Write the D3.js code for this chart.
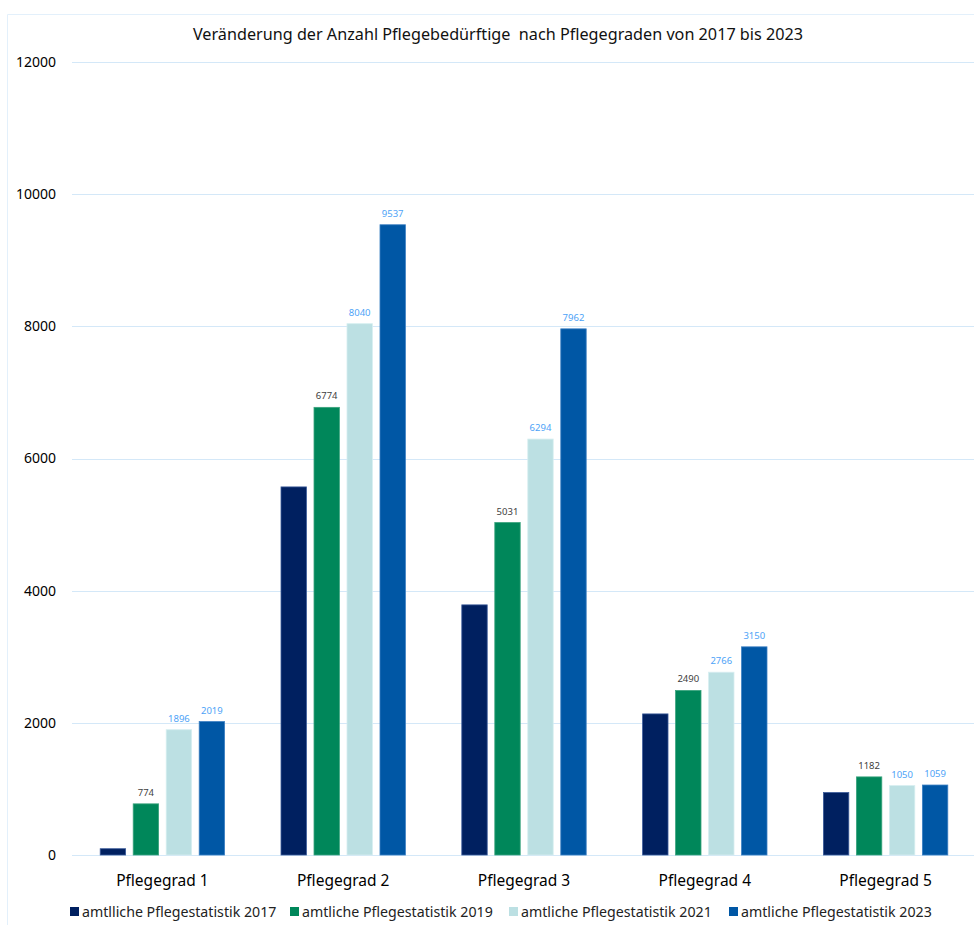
<!DOCTYPE html>
<html>
<head>
<meta charset="utf-8">
<script src="https://cdn.jsdelivr.net/npm/d3@7"></script>
<style>
  body { margin: 0; background: #fff; }
  svg { display: block; font-family: "Noto Sans", sans-serif; }
</style>
</head>
<body>
<div id="chart"></div>
<script>
// data
const categories = ["Pflegegrad 1", "Pflegegrad 2", "Pflegegrad 3", "Pflegegrad 4", "Pflegegrad 5"];
const seriesNames = [
    "amtlliche Pflegestatistik 2017",
    "amtliche Pflegestatistik 2019",
    "amtliche Pflegestatistik 2021",
    "amtliche Pflegestatistik 2023"
];
const values2017 = [95, 5570, 3785, 2135, 945];
const values2019 = [774, 6774, 5031, 2490, 1182];
const values2021 = [1896, 8040, 6294, 2766, 1050];
const values2023 = [2019, 9537, 7962, 3150, 1059];
const showLabels = [false, true, true, true];
const yTicks = [0, 2000, 4000, 6000, 8000, 10000, 12000];

const seriesValues = [values2017, values2019, values2021, values2023];
const colors = ["#002060", "#00875A", "#BCE0E3", "#0057A5"];
const strokes = ["#3a5a99", "#3aa37d", "#d6eef0", "#3b7fc2"];
const labelColors = ["#404040", "#404040", "#4DA3F7", "#4DA3F7"];

const W = 974, H = 925;
const plot = { left: 72, right: 976, top: 62, bottom: 855 };

const svg = d3.select("#chart").append("svg")
    .attr("width", W)
    .attr("height", H);

// outer frame
svg.append("path")
    .attr("d", `M7.5,${H} V14.5 H${W}`)
    .attr("fill", "none")
    .attr("stroke", "#e3f0fb")
    .attr("stroke-width", 1);

const x0 = d3.scaleBand()
    .domain(categories)
    .range([plot.left, plot.right])
    .paddingInner(0.312)
    .paddingOuter(0.156);

const x1 = d3.scaleBand()
    .domain(d3.range(seriesNames.length))
    .range([0, x0.bandwidth()])
    .paddingInner(0.23);

const y = d3.scaleLinear()
    .domain([0, 12000])
    .range([plot.bottom, plot.top]);

// gridlines
svg.append("g")
    .selectAll("line")
    .data(yTicks)
    .join("line")
    .attr("x1", plot.left)
    .attr("x2", W)
    .attr("y1", d => Math.round(y(d)) + 0.5)
    .attr("y2", d => Math.round(y(d)) + 0.5)
    .attr("stroke", "#d4e8f8")
    .attr("stroke-width", 1);

// y axis labels
const yAxis = svg.append("g")
    .attr("transform", `translate(${plot.left - 16},0)`)
    .call(d3.axisLeft(y).tickValues(yTicks).tickSize(0).tickPadding(0).tickFormat(d3.format("d")));
yAxis.select(".domain").remove();
yAxis.selectAll("text")
    .attr("font-family", "Noto Sans")
    .attr("font-size", 14)
    .attr("fill", "#000");

// bars
const groups = svg.append("g")
    .selectAll("g")
    .data(categories)
    .join("g")
    .attr("transform", d => `translate(${x0(d)},0)`);

groups.selectAll("rect")
    .data((c, ci) => seriesValues.map((vals, si) => ({ si, v: vals[ci] })))
    .join("rect")
    .attr("x", d => x1(d.si))
    .attr("y", d => y(d.v))
    .attr("width", x1.bandwidth())
    .attr("height", d => y(0) - y(d.v))
    .attr("fill", d => colors[d.si])
    .attr("stroke", d => strokes[d.si])
    .attr("stroke-width", 0.8);

// data labels
groups.selectAll("text.lbl")
    .data((c, ci) => seriesValues.map((vals, si) => ({ si, v: vals[ci] })).filter(d => showLabels[d.si]))
    .join("text")
    .attr("class", "lbl")
    .attr("x", d => x1(d.si) + x1.bandwidth() / 2)
    .attr("y", d => y(d.v) - 8)
    .attr("text-anchor", "middle")
    .attr("font-size", 9.5)
    .attr("fill", d => labelColors[d.si])
    .text(d => d.v);

// category axis
const xAxis = svg.append("g")
    .attr("transform", `translate(0,${plot.bottom})`)
    .call(d3.axisBottom(x0).tickSize(0).tickPadding(0));
xAxis.select(".domain").remove();
xAxis.selectAll("text")
    .attr("font-family", "Noto Sans")
    .attr("font-size", 15.5)
    .attr("fill", "#000")
    .attr("dy", 0)
    .attr("y", 31);

// title
svg.append("text")
    .attr("x", 498)
    .attr("y", 40)
    .attr("text-anchor", "middle")
    .attr("font-size", 16.2)
    .attr("fill", "#111")
    .style("white-space", "pre")
    .text("Veränderung der Anzahl Pflegebedürftige  nach Pflegegraden von 2017 bis 2023");

// legend
const legendX = [70, 290, 509, 729];
const legend = svg.append("g")
    .selectAll("g")
    .data(seriesNames)
    .join("g")
    .attr("transform", (d, i) => `translate(${legendX[i]},907)`);
legend.append("rect")
    .attr("width", 9)
    .attr("height", 9)
    .attr("fill", (d, i) => colors[i]);
legend.append("text")
    .attr("x", 12)
    .attr("y", 9.5)
    .attr("font-size", 14.2)
    .attr("fill", "#222")
    .text(d => d);
</script>
</body>
</html>
